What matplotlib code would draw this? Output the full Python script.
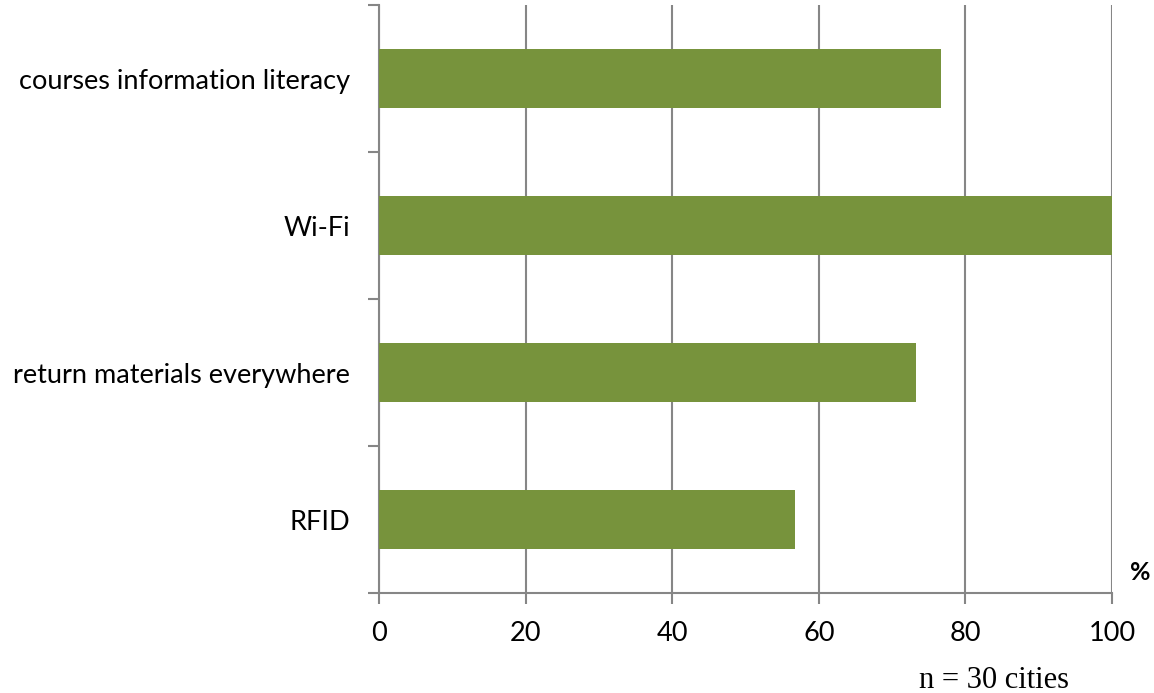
import matplotlib
matplotlib.use('Agg')
import matplotlib.pyplot as plt
import numpy as np

categories = ['courses information literacy', 'Wi-Fi', 'return materials everywhere', 'RFID']
values = [76.7, 100.0, 73.3, 56.7]
xticks = [0, 20, 40, 60, 80, 100]

plt.rcParams['font.family'] = ['Lato', 'DejaVu Sans']

fig = plt.figure(figsize=(11.54, 6.93), dpi=100)
ax = fig.add_axes([379/1154, 1 - 593/693, (1112-379)/1154, (593-5)/693])

grey = '#868686'
ypos = np.arange(len(categories))
ax.barh(ypos, values, height=0.4, color='#77933C', zorder=3)
ax.set_ylim(len(categories) - 0.5, -0.5)
ax.set_xlim(0, 100)

# category boundaries as major ticks, labels on minor ticks
ax.set_yticks(np.arange(-0.5, len(categories), 1.0))
ax.set_yticklabels([])
ax.set_yticks(ypos, minor=True)
ax.set_yticklabels(categories, minor=True, fontsize=19.5)
ax.tick_params(axis='y', which='major', length=8, width=1.5, color=grey, direction='out')
ax.tick_params(axis='y', which='minor', length=0, pad=21)

ax.set_xticks(xticks)
ax.set_xticklabels([str(t) for t in xticks], fontsize=19.5)
ax.tick_params(axis='x', length=8, width=1.5, color=grey, direction='out', pad=12)

ax.grid(axis='x', color=grey, linewidth=1.5, zorder=0)
for s in ['top', 'right']:
    ax.spines[s].set_visible(False)
for s in ['left', 'bottom']:
    ax.spines[s].set_color(grey)
    ax.spines[s].set_linewidth(1.5)

fig.text(1140/1154, 1 - 573/693, '%', fontsize=18, fontweight='bold', ha='center', va='center')
fig.text(994/1154, 1 - 680/693, 'n = 30 cities', fontsize=22, family='Liberation Serif',
         ha='center', va='center')

fig.savefig('out.png', dpi=100)
